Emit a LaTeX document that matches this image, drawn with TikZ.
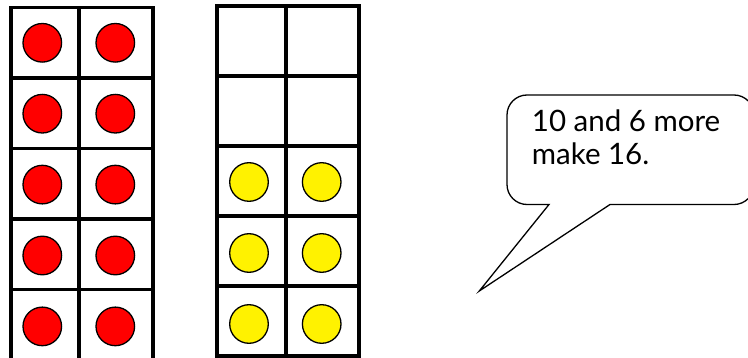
\documentclass[tikz,border=0pt]{standalone}
\usepackage{fontspec}
\setmainfont{Lato}
\begin{document}
\begin{tikzpicture}[x=1pt, y=-1pt,
    tenframe/.style={line width=3.8pt, black},
    counter/.style={circle, draw=black, line width=1.3pt,
      minimum size=38.6pt, inner sep=0pt},
    bubble/.style={draw=black, line width=1.3pt, fill=white},
    saylbl/.style={font=\fontsize{29.5}{33.3}\selectfont, align=left,
      inner sep=0pt, anchor=base west},
  ]
    \clip (0,0) rectangle (748,358);
    \def\py{70.9}  % row pitch of the counters

    % Left frame: ten red counters
    \draw[tenframe] (10.7,7.5) rectangle (153.3,360);
    \draw[tenframe] (79.2,7.5) -- (79.2,360);
    \foreach \y in {78,148.5,219,289.5}
      \draw[tenframe] (10.7,\y) -- (153.3,\y);
    \foreach \r in {0,...,4} {
      \node[counter, fill=red] (red\r-1) at (42.3, {42.8+\py*\r}) {};
      \node[counter, fill=red] (red\r-2) at (115.3, {42.8+\py*\r}) {};
    }

    % Right frame: six yellow counters in the lower rows
    \draw[tenframe] (216.7,5.7) rectangle (359,355.7);
    \draw[tenframe] (285.7,5.7) -- (285.7,355.7);
    \foreach \y in {75.7,145.7,215.7,285.7}
      \draw[tenframe] (216.7,\y) -- (359,\y);
    \foreach \r in {0,...,2} {
      \node[counter, fill=yellow] (yel\r-1) at (249, {182+71*\r}) {};
      \node[counter, fill=yellow] (yel\r-2) at (321.7, {182+71*\r}) {};
    }

    % Speech bubble (base anchor sits on the last line)
    \draw[bubble] (549,204.5) -- (479.3,291) -- (610,204.5)
      [rounded corners=20pt] -- (754,204.5) -- (754,95) -- (507,95)
      -- (507,204.5) [sharp corners] -- cycle;
    \node[saylbl] (say) at (531.7,165) {10 and 6 more\\make 16.};
\end{tikzpicture}
\end{document}
